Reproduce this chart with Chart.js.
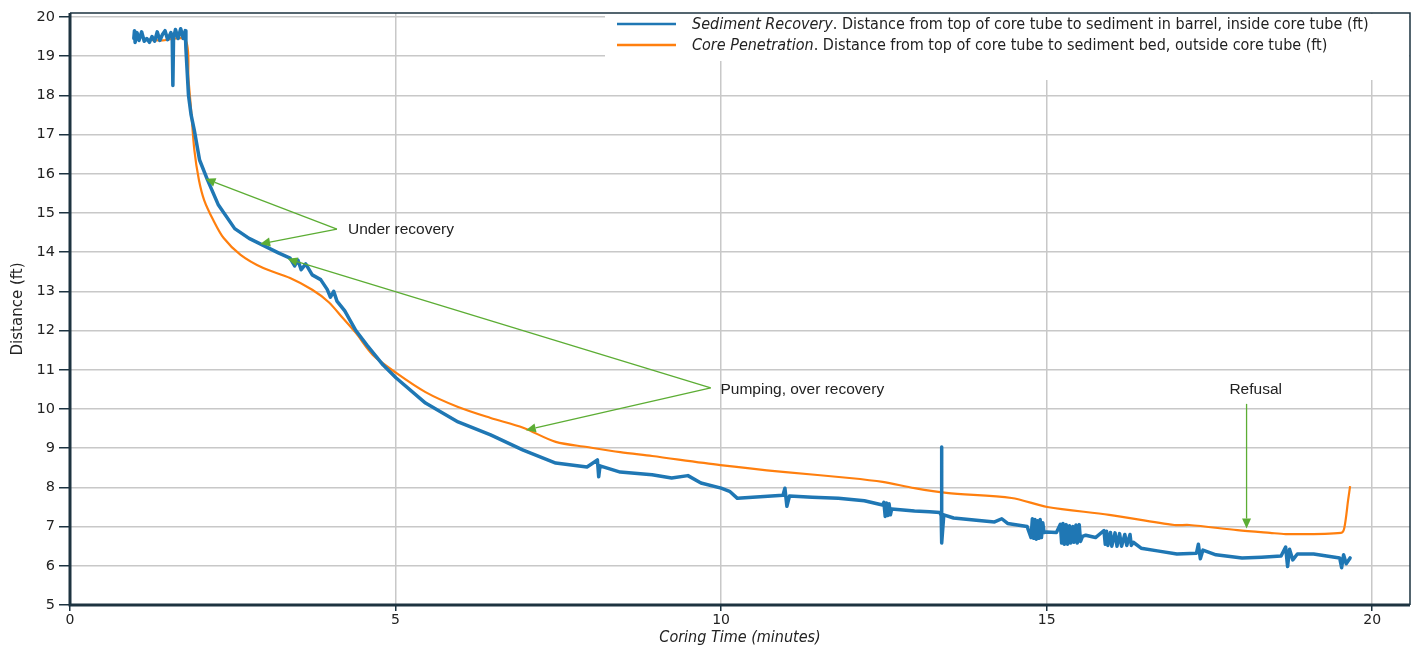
<!DOCTYPE html>
<html>
<head>
<meta charset="utf-8">
<script src="https://cdn.jsdelivr.net/npm/chart.js@4.4.0/dist/chart.umd.min.js"></script>
<style>
  html, body { margin: 0; padding: 0; background: #fff; }
  #wrap { width: 1413px; height: 647px; position: relative; }
</style>
</head>
<body>
<div id="wrap"><canvas id="core-chart"></canvas></div>
<script>
// Sediment recovery (inside core tube), minutes / ft
const blueTime = [0.98, 0.99, 1.00, 1.03, 1.06, 1.10, 1.14, 1.18, 1.22, 1.26, 1.30, 1.34, 1.38, 1.42, 1.46, 1.50, 1.55, 1.57, 1.58, 1.59, 1.62, 1.66, 1.70, 1.74, 1.77, 1.78,
  1.82, 1.86, 1.91, 1.99, 2.11, 2.28, 2.53, 2.75, 2.96, 3.20, 3.38, 3.45, 3.50, 3.55, 3.62, 3.72, 3.85, 3.95, 4.00, 4.05, 4.10, 4.22, 4.39, 4.56, 4.81,
  5.01, 5.46, 5.96, 6.46, 6.96, 7.46, 7.94, 8.10, 8.12, 8.14, 8.45, 8.94, 9.24, 9.49, 9.69, 10.00, 10.13, 10.25, 10.60, 10.95, 10.98, 11.01, 11.05,
  11.40, 11.80, 12.20, 12.48, 12.50, 12.52, 12.54, 12.56, 12.58, 12.60, 12.62, 12.97, 13.20, 13.36, 13.38, 13.385, 13.39, 13.42, 13.57, 14.00, 14.20, 14.31, 14.40, 14.70,
  14.76, 14.78, 14.80, 14.82, 14.84, 14.86, 14.88, 14.90, 14.92, 14.94, 14.96, 15.00, 15.15,
  15.21, 15.23, 15.25, 15.27, 15.30, 15.32, 15.35, 15.37, 15.40, 15.42, 15.45, 15.47, 15.50, 15.52, 15.55, 15.60, 15.75,
  15.88, 15.90, 15.92, 15.94, 15.98, 16.00, 16.05, 16.08, 16.12, 16.15, 16.20, 16.23, 16.28, 16.30, 16.33, 16.45, 16.70, 17.00, 17.30, 17.33, 17.36, 17.40, 17.60, 18.00, 18.30, 18.60, 18.67, 18.70, 18.73,
  18.78, 18.85, 19.10, 19.30, 19.50, 19.53, 19.56, 19.60, 19.66];
const blueDist = [19.45, 19.65, 19.35, 19.60, 19.40, 19.62, 19.38, 19.45, 19.35, 19.50, 19.38, 19.62, 19.40, 19.55, 19.65, 19.42, 19.60, 19.45, 18.25, 19.45, 19.68, 19.45, 19.70, 19.45, 19.65, 19.20,
  18.00, 17.50, 17.10, 16.35, 15.85, 15.20, 14.60, 14.35, 14.18, 13.98, 13.85, 13.65, 13.80, 13.55, 13.70, 13.42, 13.30, 13.05, 12.85, 13.00, 12.75, 12.50, 12.00, 11.63, 11.12,
  10.79, 10.15, 9.67, 9.34, 8.95, 8.62, 8.52, 8.70, 8.27, 8.55, 8.39, 8.32, 8.24, 8.30, 8.11, 7.98, 7.90, 7.72, 7.76, 7.80, 7.98, 7.52, 7.78,
  7.75, 7.72, 7.66, 7.55, 7.62, 7.26, 7.60, 7.28, 7.58, 7.30, 7.45, 7.40, 7.38, 7.36, 7.28, 9.03, 6.58, 7.30, 7.22, 7.15, 7.12, 7.20, 7.08, 7.00,
  6.72, 7.20, 6.70, 7.18, 6.68, 7.15, 6.70, 7.18, 6.72, 7.10, 6.85, 6.86, 6.85,
  7.06, 6.58, 7.08, 6.55, 7.05, 6.55, 7.02, 6.58, 7.00, 6.60, 7.04, 6.58, 7.05, 6.62, 6.75, 6.78, 6.72,
  6.90, 6.55, 6.88, 6.52, 6.85, 6.50, 6.84, 6.50, 6.82, 6.50, 6.80, 6.52, 6.80, 6.52, 6.60, 6.45, 6.38, 6.30, 6.32, 6.55, 6.18, 6.40, 6.28, 6.20, 6.22, 6.25, 6.48, 5.98, 6.42,
  6.15, 6.30, 6.30, 6.25, 6.20, 5.95, 6.28, 6.05, 6.20];

// Core penetration (outside core tube), minutes / ft
const orangeTime = [1.15, 1.40, 1.77, 1.82, 1.86, 1.91, 1.98, 2.06, 2.20, 2.36, 2.62, 2.96, 3.38, 3.72, 3.97, 4.19, 4.39, 4.65, 5.01, 5.46, 5.96,
  6.46, 6.96, 7.46, 7.94, 8.45, 8.94, 9.99, 10.99, 11.97, 12.48, 12.97, 13.46, 14.46, 15.01, 15.96, 16.96, 17.19, 17.93, 18.43, 18.67, 19.52,
  19.57, 19.63, 19.66];
const orangeDist = [19.42, 19.40, 19.42, 18.40, 17.63, 16.60, 15.84, 15.33, 14.82, 14.36, 13.93, 13.60, 13.34, 13.04, 12.73, 12.32, 11.94, 11.38, 10.92, 10.43, 10.05,
  9.77, 9.52, 9.16, 9.03, 8.90, 8.80, 8.57, 8.39, 8.24, 8.14, 7.98, 7.86, 7.73, 7.50, 7.30, 7.04, 7.04, 6.91, 6.84, 6.81, 6.84,
  6.96, 7.68, 8.03];

const xTicks = [0, 5, 10, 15, 20];
const yTicks = [5, 6, 7, 8, 9, 10, 11, 12, 13, 14, 15, 16, 17, 18, 19, 20];

const seriesNames = [
  ['Sediment Recovery', '. Distance from top of core tube to sediment in barrel, inside core tube (ft)'],
  ['Core Penetration', '. Distance from top of core tube to sediment bed, outside core tube (ft)'],
];

// callouts, anchored in data units (minutes, ft)
const callouts = [
  { text: 'Under recovery', textAt: [4.27, 14.57], from: [4.10, 14.59], tips: [[2.08, 15.87], [2.92, 14.21]] },
  { text: 'Pumping, over recovery', textAt: [9.99, 10.48], from: [9.84, 10.54], tips: [[3.34, 13.83], [7.0, 9.46]] },
  { text: 'Refusal', textAt: [18.21, 10.48], center: true, from: [18.07, 10.13], tips: [[18.07, 6.95]] },
];

const BLUE = '#1f77b4';
const ORANGE = '#ff7f0e';
const GREEN = '#5cad34';
const FRAME = '#1d3340';
const NARROW = '"Liberation Sans Narrow", "DejaVu Sans Condensed", sans-serif';

function pts(xs, ys) {
  return xs.map((x, i) => ({ x: x, y: ys[i] }));
}

// white legend box in the upper right, drawn over the grid
const legendBox = {
  id: 'legendBox',
  beforeDatasetsDraw(chart) {
    const ctx = chart.ctx;
    const a = chart.chartArea;
    ctx.save();
    ctx.fillStyle = '#fff';
    ctx.fillRect(605, a.top + 1, a.right - 605 - 1, 47);
    ctx.fillRect(740, a.top + 1, a.right - 740 - 1, 66);
    ctx.restore();
  },
  afterDraw(chart) {
    const ctx = chart.ctx;
    ctx.save();
    const colors = [BLUE, ORANGE];
    seriesNames.forEach((s, i) => {
      const y = 24 + i * 21;
      ctx.strokeStyle = colors[i];
      ctx.lineWidth = 2.5;
      ctx.beginPath();
      ctx.moveTo(617, y);
      ctx.lineTo(676, y);
      ctx.stroke();
      ctx.fillStyle = '#222';
      ctx.textBaseline = 'middle';
      ctx.font = 'italic 16px ' + NARROW;
      ctx.fillText(s[0], 692, y + 1);
      const w = ctx.measureText(s[0]).width;
      ctx.font = '16px ' + NARROW;
      ctx.fillText(s[1], 692 + w, y + 1);
    });
    ctx.restore();
  },
};

function arrow(ctx, x0, y0, x1, y1) {
  const ang = Math.atan2(y1 - y0, x1 - x0);
  const len = 10, half = 4.5;
  const bx = x1 - len * Math.cos(ang), by = y1 - len * Math.sin(ang);
  ctx.beginPath();
  ctx.moveTo(x0, y0);
  ctx.lineTo(bx, by);
  ctx.stroke();
  ctx.beginPath();
  ctx.moveTo(x1, y1);
  ctx.lineTo(bx + half * Math.sin(ang), by - half * Math.cos(ang));
  ctx.lineTo(bx - half * Math.sin(ang), by + half * Math.cos(ang));
  ctx.closePath();
  ctx.fill();
}

const callout = {
  id: 'callout',
  afterDatasetsDraw(chart) {
    const ctx = chart.ctx;
    const xs = chart.scales.x, ys = chart.scales.y;
    ctx.save();
    ctx.strokeStyle = GREEN;
    ctx.fillStyle = GREEN;
    ctx.lineWidth = 1.3;
    callouts.forEach(c => {
      const fx = xs.getPixelForValue(c.from[0]), fy = ys.getPixelForValue(c.from[1]);
      c.tips.forEach(t => {
        arrow(ctx, fx, fy, xs.getPixelForValue(t[0]), ys.getPixelForValue(t[1]));
      });
    });
    ctx.fillStyle = '#222';
    ctx.font = '15.5px "Liberation Sans", Arial, sans-serif';
    ctx.textBaseline = 'middle';
    callouts.forEach(c => {
      ctx.textAlign = c.center ? 'center' : 'left';
      ctx.fillText(c.text, xs.getPixelForValue(c.textAt[0]), ys.getPixelForValue(c.textAt[1]));
    });
    ctx.restore();
  },
};

// dark frame round the plot area
const frame = {
  id: 'frame',
  afterDraw(chart) {
    const ctx = chart.ctx;
    const a = chart.chartArea;
    ctx.save();
    ctx.strokeStyle = FRAME;
    ctx.lineWidth = 1.5;
    ctx.beginPath();
    ctx.moveTo(a.left, a.top);
    ctx.lineTo(a.right, a.top);
    ctx.lineTo(a.right, a.bottom);
    ctx.stroke();
    ctx.lineWidth = 3;
    ctx.beginPath();
    ctx.moveTo(a.left, a.top);
    ctx.lineTo(a.left, a.bottom);
    ctx.lineTo(a.right, a.bottom);
    ctx.stroke();
    ctx.restore();
  },
};

const ctx = document.getElementById('core-chart').getContext('2d');
const coreChart = new Chart(ctx, {
  type: 'line',
  data: {
    datasets: [
      {
        label: 'Sediment Recovery',
        data: pts(blueTime, blueDist),
        borderColor: BLUE,
        borderWidth: 3.5,
        borderJoinStyle: 'round',
        borderCapStyle: 'round',
        pointRadius: 0,
        tension: 0,
      },
      {
        label: 'Core Penetration',
        data: pts(orangeTime, orangeDist),
        borderColor: ORANGE,
        borderWidth: 2.2,
        borderJoinStyle: 'round',
        pointRadius: 0,
        tension: 0.3,
      },
    ],
  },
  options: {
    responsive: true,
    maintainAspectRatio: false,
    animation: false,
    layout: { padding: { top: 13, right: 3, left: 0, bottom: 0 } },
    plugins: {
      legend: { display: false },
      tooltip: { enabled: false },
    },
    scales: {
      x: {
        type: 'linear',
        min: 0,
        max: 20.58,
        afterBuildTicks: s => { s.ticks = xTicks.map(v => ({ value: v })); },
        afterFit: s => { s.height = 42; },
        grid: { color: '#c8c8c8', lineWidth: 1.5, tickColor: FRAME, tickLength: 6 },
        border: { display: false },
        ticks: { color: '#222', font: { family: 'DejaVu Sans', size: 14 }, padding: 1, maxRotation: 0 },
        title: {
          display: true,
          text: 'Coring Time (minutes)',
          color: '#222',
          font: { family: NARROW, size: 16, style: 'italic' },
          padding: { top: 0, bottom: 0 },
        },
      },
      y: {
        type: 'linear',
        min: 5,
        max: 20.1,
        afterBuildTicks: s => { s.ticks = yTicks.map(v => ({ value: v })); },
        afterFit: s => { s.width = 70; },
        grid: { color: '#c8c8c8', lineWidth: 1.5, tickColor: FRAME, tickLength: 11 },
        border: { display: false },
        ticks: { color: '#222', font: { family: 'DejaVu Sans', size: 14.5 }, padding: 4 },
        title: {
          display: true,
          text: 'Distance (ft)',
          color: '#222',
          font: { family: 'DejaVu Sans', size: 15 },
          padding: { top: 9, bottom: 0 },
        },
      },
    },
  },
  plugins: [legendBox, callout, frame],
});
</script>
</body>
</html>
